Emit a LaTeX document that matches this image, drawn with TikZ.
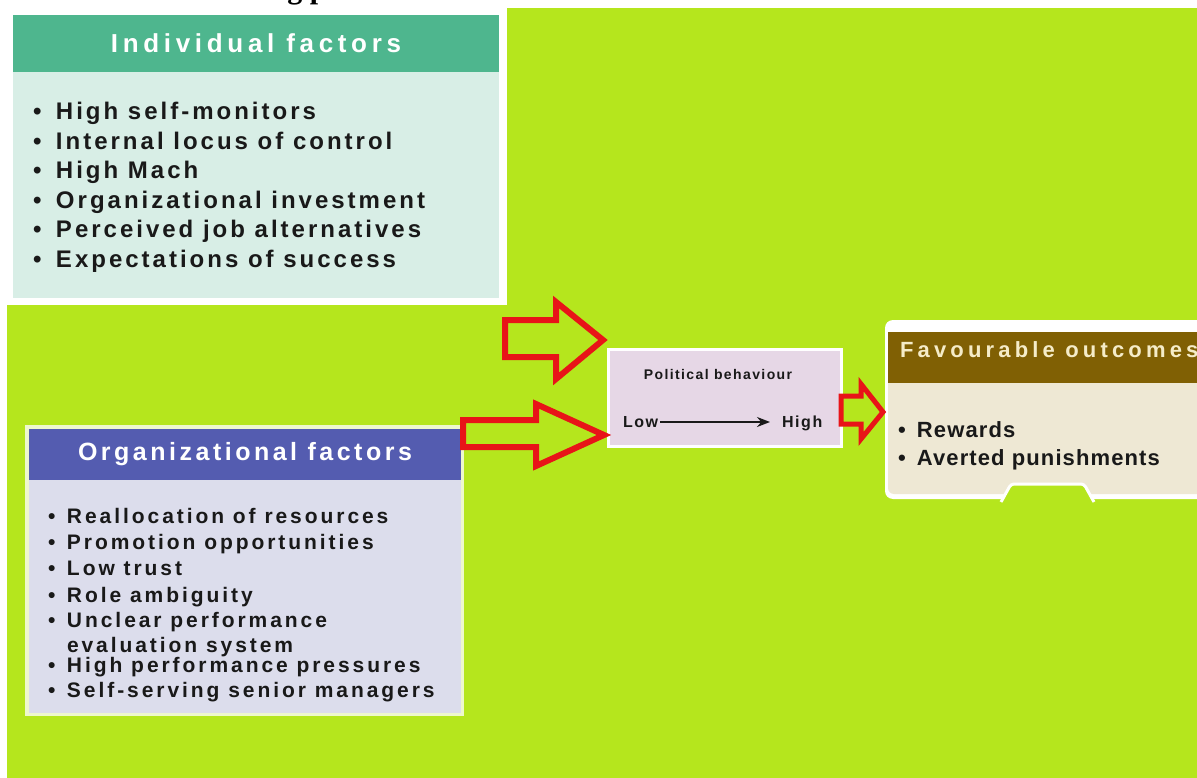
\documentclass[tikz,border=0pt]{standalone}
\usepackage{fontspec}
\setmainfont{Liberation Sans}
\newfontfamily\fIndH[LetterSpace=18]{Liberation Sans}
\newfontfamily\fIndB[LetterSpace=12.5]{Liberation Sans}
\newfontfamily\fOrgH[LetterSpace=14]{Liberation Sans}
\newfontfamily\fOrgB[LetterSpace=14]{Liberation Sans}
\newfontfamily\fFavH[LetterSpace=19]{Liberation Sans}
\newfontfamily\fFavB[LetterSpace=5]{Liberation Sans}
\newfontfamily\fPol[LetterSpace=10]{Liberation Sans}
\newfontfamily\fTitle{Liberation Serif}
\usetikzlibrary{arrows.meta}
\definecolor{bgLime}{RGB}{181,230,29}
\definecolor{indHead}{RGB}{78,182,142}
\definecolor{indBody}{RGB}{216,238,230}
\definecolor{orgHead}{RGB}{84,92,176}
\definecolor{orgBody}{RGB}{220,221,236}
\definecolor{orgBorder}{RGB}{238,248,205}
\definecolor{polPink}{RGB}{230,215,230}
\definecolor{favHead}{RGB}{128,96,4}
\definecolor{favBody}{RGB}{238,232,212}
\definecolor{favText}{RGB}{245,236,200}
\definecolor{arrRed}{RGB}{232,20,24}
\definecolor{txtDark}{RGB}{25,25,25}
\begin{document}
\begin{tikzpicture}[x=1pt,y=-1pt,
  every node/.style={inner sep=0pt, outer sep=0pt},
  blockarrow/.style={draw=arrRed, line width=6pt, line join=miter, miter limit=6},
  indline/.style={anchor=base west, text=txtDark, font=\fIndB\bfseries\fontsize{24}{28}\selectfont},
  orgline/.style={anchor=base west, text=txtDark, font=\fOrgB\bfseries\fontsize{21}{25}\selectfont},
  favline/.style={anchor=base west, text=txtDark, font=\fFavB\bfseries\fontsize{22}{26}\selectfont},
  polline/.style={anchor=base west, text=txtDark, font=\fPol\bfseries\fontsize{16}{19}\selectfont}]
\useasboundingbox (0,0) rectangle (1197,778);
\fill[white] (0,0) rectangle (1197,778);
\fill[bgLime] (7,8) rectangle (1197,778);

% cut-off heading at the very top
\begin{scope}
\clip (0,0) rectangle (1197,8);
\node[anchor=base west, font=\fTitle\bfseries\fontsize{30}{36}\selectfont] (title) at (55,-1) {Factors influencing political behaviour};
\end{scope}

% Individual factors
\fill[white] (7,8) rectangle (507,305);
\fill[indBody] (13,72) rectangle (499,298);
\node[fill=indHead, minimum width=486pt, minimum height=57pt, anchor=north west,
      text=white, font=\fIndH\bfseries\fontsize{26}{30}\selectfont] (indh) at (13,15) {Individual factors};
\foreach \t [count=\i] in {High self-monitors, Internal locus of control, High Mach,
    Organizational investment, Perceived job alternatives, Expectations of success}
  \node[indline] (ind\i) at ({33},{120+29.4*(\i-1)}) {\makebox[23pt][l]{\textbullet}\t};

% Organizational factors
\fill[orgBorder] (25,425) rectangle (464,716);
\fill[orgBody] (29,480) rectangle (461,713);
\node[fill=orgHead, minimum width=432pt, minimum height=51pt, anchor=north west,
      text=white, font=\fOrgH\bfseries\fontsize{25}{29}\selectfont] (orgh) at (29,429) {Organizational factors};
\node[orgline] (org1) at (48,523) {\makebox[19pt][l]{\textbullet}Reallocation of resources};
\node[orgline] (org2) at (48,549) {\makebox[19pt][l]{\textbullet}Promotion opportunities};
\node[orgline] (org3) at (48,575) {\makebox[19pt][l]{\textbullet}Low trust};
\node[orgline] (org4) at (48,602) {\makebox[19pt][l]{\textbullet}Role ambiguity};
\node[orgline] (org5) at (48,627) {\makebox[19pt][l]{\textbullet}Unclear performance};
\node[orgline] (org5b) at (67,652) {evaluation system};
\node[orgline] (org6) at (48,672) {\makebox[19pt][l]{\textbullet}High performance pressures};
\node[orgline] (org7) at (48,697) {\makebox[19pt][l]{\textbullet}Self-serving senior managers};

% Political behaviour
\node[fill=polPink, draw=white, line width=3pt, minimum width=233pt, minimum height=97pt,
      anchor=north west] (pol) at (608.5,349.5) {};
\node[anchor=base, text=txtDark, font=\fPol\bfseries\fontsize{14}{17}\selectfont] (poltitle) at (718,379) {Political behaviour};
\node[polline] (low) at (623,427) {Low};
\node[polline] (high) at (782,427) {High};
\draw[-{Stealth[length=13pt,width=10pt]}, line width=1.6pt, txtDark, shorten <=2pt, shorten >=12pt]
  ([yshift=5pt]low.base east) -- ([yshift=5pt]high.base west);

% Favourable outcomes
\fill[white, rounded corners=8pt] (885,320) rectangle (1215,499);
\fill[favBody, rounded corners=6pt] (888,378) rectangle (1215,494);
\fill[favHead] (888,332) rectangle (1197,383);
\filldraw[fill=bgLime, draw=white, line width=3pt, rounded corners=3pt]
  (1001,502) -- (1011,484) -- (1084,484) -- (1094,502);
\begin{scope}
\clip (888,332) rectangle (1197,383);
\node[anchor=base west, text=favText, font=\fFavH\bfseries\fontsize{22}{26}\selectfont] (favh) at (900,357) {Favourable outcomes};
\end{scope}
\node[favline] (fav1) at (898,437) {\makebox[19pt][l]{\textbullet}Rewards};
\node[favline] (fav2) at (898,465) {\makebox[19pt][l]{\textbullet}Averted punishments};

% red block arrows
\draw[blockarrow] (505,320) -- (556,320) -- (556,302) -- (603,340) -- (556,379) -- (556,357) -- (505,357) -- cycle;
\draw[blockarrow] (463,420) -- (536,420) -- (536,404) -- (604,435) -- (536,466) -- (536,447) -- (463,447) -- cycle;
\draw[blockarrow, line width=5pt] (841,396) -- (861,396) -- (861,384) -- (883,412) -- (861,439) -- (861,424) -- (841,424) -- cycle;
\end{tikzpicture}
\end{document}
